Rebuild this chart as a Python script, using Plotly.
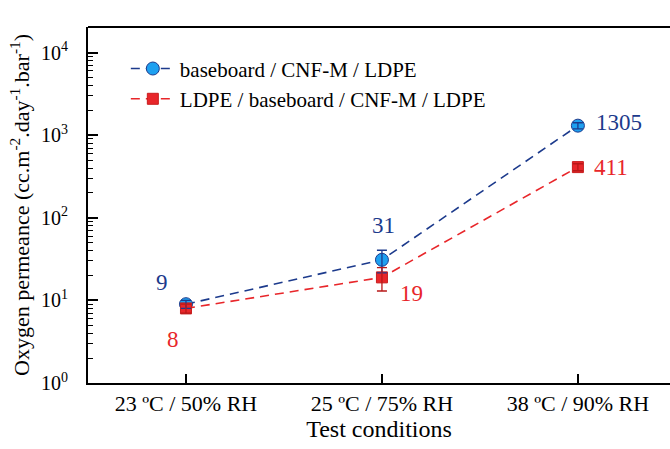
import math
import plotly.graph_objects as go

conditions = ["23 ºC / 50% RH", "25 ºC / 75% RH", "38 ºC / 90% RH"]
blue_name = "baseboard / CNF-M / LDPE"
red_name = "LDPE / baseboard / CNF-M / LDPE"
blue_vals = [9, 31, 1305]
blue_err = [1.0, 9.5, 110]
red_vals = [8, 19, 411]
red_err = [1.0, 6.0, 40]
blue_labels = ["9", "31", "1305"]
red_labels = ["8", "19", "411"]
ytick_vals = [1, 10, 100, 1000, 10000]
ytick_text = ["10<sup>0</sup>", "10<sup>1</sup>", "10<sup>2</sup>", "10<sup>3</sup>", "10<sup>4</sup>"]
y_title = "Oxygen permeance (cc.m<sup>-2</sup>.day<sup>-1</sup>.bar<sup>-1</sup>)"

NAVY = "#1C3A8C"
BLUE_FILL = "#1EA0F0"
RED = "#E8262A"
FONT = "Times New Roman, Liberation Serif, serif"

x = list(range(len(conditions)))
minor_vals = [m * 10 ** k for k in range(0, 5) for m in range(2, 10)]

fig = go.Figure()

fig.add_trace(go.Scatter(
    x=x, y=blue_vals, mode="lines+markers", name=blue_name,
    line=dict(color=NAVY, width=1.6, dash="9px,6px"),
    marker=dict(symbol="circle", size=13, color=BLUE_FILL, line=dict(color=NAVY, width=1)),
))
fig.add_trace(go.Scatter(
    x=x, y=red_vals, mode="lines+markers", name=red_name,
    line=dict(color=RED, width=1.6, dash="9px,6px"),
    marker=dict(symbol="square", size=11, color=RED, line=dict(color="#C81E1E", width=1)),
))

# error bars drawn over the markers
for vals, err, col in [(blue_vals, blue_err, NAVY), (red_vals, red_err, "#B81818")]:
    fig.add_trace(go.Scatter(
        x=x, y=vals, mode="markers", showlegend=False, hoverinfo="skip",
        marker=dict(size=1, color="rgba(0,0,0,0)"),
        error_y=dict(type="data", array=err, color=col, thickness=1.3, width=5),
    ))

# value labels (annotation y on a log axis is given in log10 units)
blue_shift = [(-24, -22), (2, -34), (41, -3)]
red_shift = [(-13, 31), (30, 16), (33, 0)]
for i in x:
    fig.add_annotation(x=i, y=math.log10(blue_vals[i]), text=blue_labels[i], showarrow=False,
                       xshift=blue_shift[i][0], yshift=-blue_shift[i][1],
                       font=dict(family=FONT, size=23, color=NAVY))
    fig.add_annotation(x=i, y=math.log10(red_vals[i]), text=red_labels[i], showarrow=False,
                       xshift=red_shift[i][0], yshift=-red_shift[i][1],
                       font=dict(family=FONT, size=23, color=RED))

# y-axis title placed beside the tick labels
fig.add_annotation(xref="paper", yref="paper", x=0, y=0.5, xshift=-68, textangle=-90,
                   xanchor="center", yanchor="middle",
                   text=y_title, showarrow=False, font=dict(family=FONT, size=22, color="black"))

# top border of the frame
fig.add_shape(type="line", xref="paper", yref="paper", x0=0, x1=1, y0=1, y1=1,
              line=dict(color="black", width=2))

fig.update_layout(
    width=670, height=449,
    margin=dict(l=88, r=0, t=27, b=66),
    paper_bgcolor="white", plot_bgcolor="white",
    font=dict(family=FONT, size=21, color="black"),
    legend=dict(x=0.065, y=0.94, xanchor="left", yanchor="top",
                bgcolor="rgba(0,0,0,0)", font=dict(family=FONT, size=21, color="black"),
                itemwidth=44, tracegroupgap=0),
    showlegend=True,
)
fig.update_xaxes(
    range=[-0.5, 2.47], tickvals=x, ticktext=conditions,
    showline=True, linecolor="black", linewidth=2, mirror=False,
    ticks="inside", ticklen=9, tickwidth=2, tickcolor="black",
    showgrid=False, zeroline=False,
    tickfont=dict(family=FONT, size=22),
    title=dict(text="Test conditions", font=dict(family=FONT, size=24), standoff=4),
)
fig.update_yaxes(
    type="log", range=[0, 4.31], tickvals=ytick_vals, ticktext=ytick_text,
    showline=True, linecolor="black", linewidth=2, mirror=False,
    ticks="inside", ticklen=10, tickwidth=2, tickcolor="black",
    minor=dict(ticks="inside", ticklen=5, tickwidth=1.2, tickcolor="black", tickvals=minor_vals, showgrid=False),
    showgrid=False, zeroline=False,
    tickfont=dict(family=FONT, size=20), ticklabelstandoff=14,
)

fig.write_html("out.html")
